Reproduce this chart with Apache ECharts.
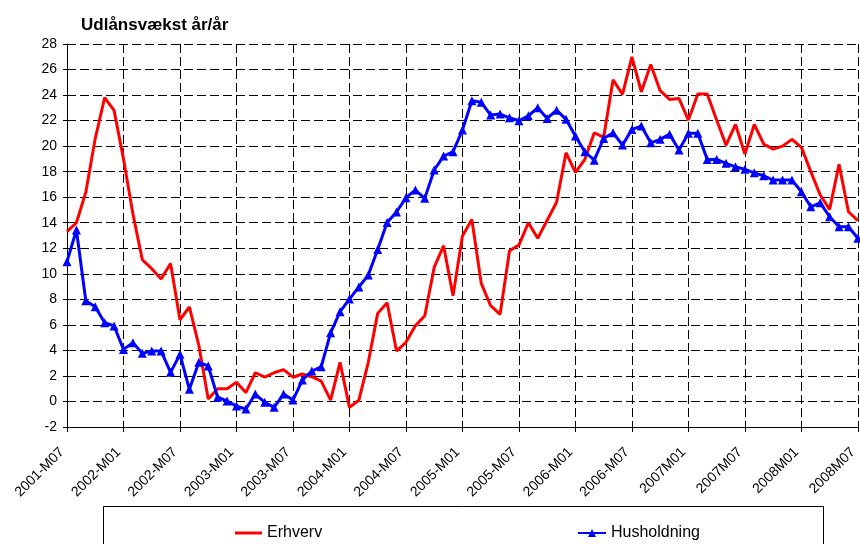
<!DOCTYPE html>
<html>
<head>
<meta charset="utf-8">
<script src="https://cdn.jsdelivr.net/npm/echarts@6/dist/echarts.min.js"></script>
<style>
html, body { margin: 0; padding: 0; background: #fff; }
#myChart { width: 860px; height: 544px; }
</style>
</head>
<body>
<div id="myChart"></div>
<script>
// måneder 2001-M07 .. 2008-M07 (fra 2007 uden bindestreg, som i originalen)
var months = []
for (var y = 2001; y <= 2008; y++) {
  for (var m = 1; m <= 12; m++) {
    if (y === 2001 && m < 7) continue
    if (y === 2008 && m > 7) continue
    var mm = m < 10 ? '0' + m : '' + m
    months.push(y >= 2007 ? y + 'M' + mm : y + '-M' + mm)
  }
}

// Erhverv
var erhverv = [
  13.3, 14.0, 16.4, 20.6, 23.8, 22.8, 19.0, 14.7, 11.1, 10.4,
  9.6, 10.8, 6.4, 7.4, 4.4, 0.2, 1.0, 1.0, 1.5, 0.7,
  2.25, 1.9, 2.25, 2.5, 1.9, 2.15, 1.94, 1.6, 0.1, 3.07,
  -0.46, 0.1, 3.07, 6.9, 7.73, 3.95, 4.63, 5.93, 6.72, 10.5,
  12.2, 8.28, 12.96, 14.26, 9.25, 7.5, 6.82, 11.8, 12.25, 14.0,
  12.78, 14.2, 15.6, 19.48, 17.94, 18.96, 21.05, 20.69, 25.2, 24.05,
  27.0, 24.26, 26.4, 24.34, 23.66, 23.74, 22.04, 24.08, 24.08, 22.04,
  20.08, 21.7, 19.38, 21.7, 20.16, 19.77, 20.0, 20.53, 19.9, 18.0,
  16.17, 15.05, 18.57, 14.86, 14.16
]

// Husholdning
var husholdning = [
  10.95, 13.43, 7.89, 7.42, 6.17, 5.91, 4.08, 4.6, 3.77, 3.95,
  3.95, 2.28, 3.69, 0.95, 3.07, 2.78, 0.33, 0.04, -0.36, -0.59,
  0.58, -0.07, -0.46, 0.58, 0.11, 1.68, 2.38, 2.72, 5.38, 7.03,
  8.02, 8.97, 9.9, 11.9, 14.02, 14.84, 15.96, 16.56, 15.91, 18.13,
  19.22, 19.56, 21.26, 23.55, 23.43, 22.43, 22.51, 22.22, 21.99, 22.38,
  23.0, 22.17, 22.82, 22.1, 20.79, 19.56, 18.9, 20.6, 21.05, 20.08,
  21.31, 21.57, 20.26, 20.53, 20.94, 19.69, 21.0, 21.0, 18.96, 18.96,
  18.65, 18.38, 18.18, 17.91, 17.68, 17.34, 17.34, 17.34, 16.43, 15.25,
  15.56, 14.47, 13.69, 13.69, 12.78
]

var gridDash = {
  color: '#000',
  type: [9, 4],
  width: 1
}

var myChart = echarts.init(document.getElementById('myChart'))
myChart.setOption({
  backgroundColor: '#fff',
  animation: false,
  textStyle: { fontFamily: 'Liberation Sans, Arial, sans-serif' },
  title: {
    text: 'Udlånsvækst år/år',
    left: 76,
    top: 12,
    textStyle: { fontSize: 17, fontWeight: 'bold', color: '#000' }
  },
  grid: {
    left: 67,
    right: 1,
    top: 44,
    bottom: 117,
    containLabel: false
  },
  xAxis: {
    type: 'category',
    boundaryGap: false,
    data: months,
    axisLine: { onZero: false, lineStyle: { color: '#000', width: 1 } },
    axisTick: { interval: 5, length: 5, lineStyle: { color: '#000' } },
    axisLabel: {
      interval: 5,
      rotate: 45,
      fontSize: 14,
      color: '#000',
      margin: 18,
      padding: [0, 7, 0, 0]
    },
    splitLine: { show: true, interval: 5, lineStyle: gridDash }
  },
  yAxis: {
    type: 'value',
    min: -2,
    max: 28,
    interval: 2,
    axisLine: { show: true, lineStyle: { color: '#000', width: 1 } },
    axisTick: { show: true, length: 4, lineStyle: { color: '#000' } },
    axisLabel: { fontSize: 14, color: '#000', margin: 10 },
    splitLine: { show: true, lineStyle: gridDash }
  },
  // to legender, så Erhverv får en ren streg uden markør
  legend: [
    {
      left: 230,
      top: 520,
      itemWidth: 27,
      itemHeight: 3,
      icon: 'rect',
      textStyle: { fontSize: 16, color: '#000' },
      data: ['Erhverv']
    },
    {
      left: 572,
      top: 520,
      itemWidth: 28,
      itemHeight: 10,
      textStyle: { fontSize: 16, color: '#000' },
      data: ['Husholdning']
    }
  ],
  graphic: [{
    type: 'rect',
    shape: { x: 103.5, y: 506.5, width: 720, height: 60 },
    style: { fill: 'none', stroke: '#000', lineWidth: 1 },
    z: -1
  }],
  series: [
    {
      name: 'Erhverv',
      type: 'line',
      data: erhverv,
      symbol: 'none',
      lineStyle: { color: '#ff0000', width: 3 },
      itemStyle: { color: '#ff0000' },
      z: 2
    },
    {
      name: 'Husholdning',
      type: 'line',
      data: husholdning,
      symbol: 'triangle',
      symbolSize: 9,
      showAllSymbol: true,
      lineStyle: { color: '#0000ff', width: 3 },
      itemStyle: { color: '#0000ff' },
      z: 3
    }
  ]
})
</script>
</body>
</html>
